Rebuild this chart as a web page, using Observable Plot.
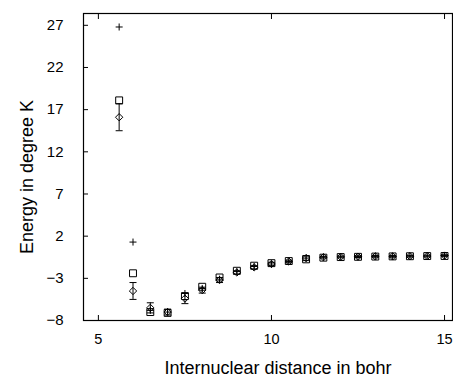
<!DOCTYPE html>
<html>
<head>
<meta charset="utf-8">
<script src="https://cdn.jsdelivr.net/npm/d3@7"></script>
<script src="https://cdn.jsdelivr.net/npm/@observablehq/plot@0.6"></script>
<style>
  html, body { margin: 0; padding: 0; background: white; }
</style>
</head>
<body>
<div id="chart"></div>
<script>
const distance      = [5.6, 6, 6.5, 7, 7.5, 8, 8.5, 9, 9.5, 10, 10.5, 11, 11.5, 12, 12.5, 13, 13.5, 14, 14.5, 15];
const energyPlus    = [26.8, 1.3, -6.8, -7.0, -4.8, -4.2, -3.1, -2.2, -1.6, -1.3, -1.0, -0.6, -0.5, -0.45, -0.42, -0.4, -0.4, -0.38, -0.36, -0.3];
const energySquare  = [18.1, -2.4, -7.0, -7.1, -5.1, -4.0, -2.9, -2.1, -1.5, -1.2, -0.95, -0.75, -0.55, -0.48, -0.45, -0.42, -0.4, -0.38, -0.36, -0.35];
const energyDiamond = [16.1, -4.5, -6.5, -7.0, -5.4, -4.4, -3.2, -2.3, -1.7, -1.3, -1.0, -0.6, -0.5, -0.46, -0.43, -0.4, -0.4, -0.38, -0.36, -0.3];
const diamondError  = [1.6, 1.0, 0.6, 0.35, 0.6, 0.35, 0.3, 0.2, 0.2, 0.2, 0.15, 0.3, 0.1, 0.1, 0.1, 0.1, 0.1, 0.1, 0.1, 0.1];
const xTicks = [5, 10, 15];
const yTicks = [-8, -3, 2, 7, 12, 17, 22, 27];
const xTitle = "Internuclear distance in bohr";
const yTitle = "Energy in degree K";

const rows = distance.map((x, i) => ({
  x,
  plus: energyPlus[i],
  square: energySquare[i],
  diamond: energyDiamond[i],
  lo: energyDiamond[i] - diamondError[i],
  hi: energyDiamond[i] + diamondError[i]
}));

const capSymbol = {draw(ctx) { ctx.moveTo(-3.5, 0); ctx.lineTo(3.5, 0); }};
const blank = () => "";

const chart = Plot.plot({
  width: 453,
  height: 383,
  marginLeft: 83,
  marginRight: 1,
  marginTop: 13,
  marginBottom: 63,
  style: {fontFamily: "'Liberation Sans', Arial, sans-serif", fontSize: "15px", background: "white", color: "black"},
  x: {domain: [4.57, 15.23]},
  y: {domain: [-8, 28.4]},
  marks: [
    Plot.frame({stroke: "black", strokeWidth: 1.2}),
    Plot.axisX(xTicks, {tickSize: 0, tickPadding: 13, label: null, fontSize: 14.5}),
    Plot.axisX(xTicks, {tickSize: -5, tickFormat: blank, label: null}),
    Plot.axisX(xTicks, {anchor: "top", tickSize: -5, tickFormat: blank, label: null}),
    Plot.axisY(yTicks, {tickSize: 0, tickPadding: 20, label: null, fontSize: 15}),
    Plot.axisY(yTicks, {tickSize: -5, tickFormat: blank, label: null}),
    Plot.text([xTitle], {frameAnchor: "bottom", dy: 53, dx: 10, fontSize: 18}),
    Plot.text([yTitle], {frameAnchor: "left", textAnchor: "middle", rotate: -90, dx: -56, dy: 10, fontSize: 18}),
    Plot.ruleX(rows, {x: "x", y1: "lo", y2: "hi", stroke: "black", strokeWidth: 1}),
    Plot.dot(rows, {x: "x", y: "lo", symbol: capSymbol, stroke: "black", strokeWidth: 1}),
    Plot.dot(rows, {x: "x", y: "hi", symbol: capSymbol, stroke: "black", strokeWidth: 1}),
    Plot.dot(rows, {x: "x", y: "diamond", symbol: "diamond2", r: 3.3, stroke: "black", fill: "none", strokeWidth: 1}),
    Plot.dot(rows, {x: "x", y: "square", symbol: "square2", r: 4.4, stroke: "black", fill: "none", strokeWidth: 1}),
    Plot.dot(rows, {x: "x", y: "plus", symbol: "plus", r: 2.4, stroke: "black", fill: "none", strokeWidth: 1})
  ]
});

document.getElementById("chart").appendChild(chart);
</script>
</body>
</html>
